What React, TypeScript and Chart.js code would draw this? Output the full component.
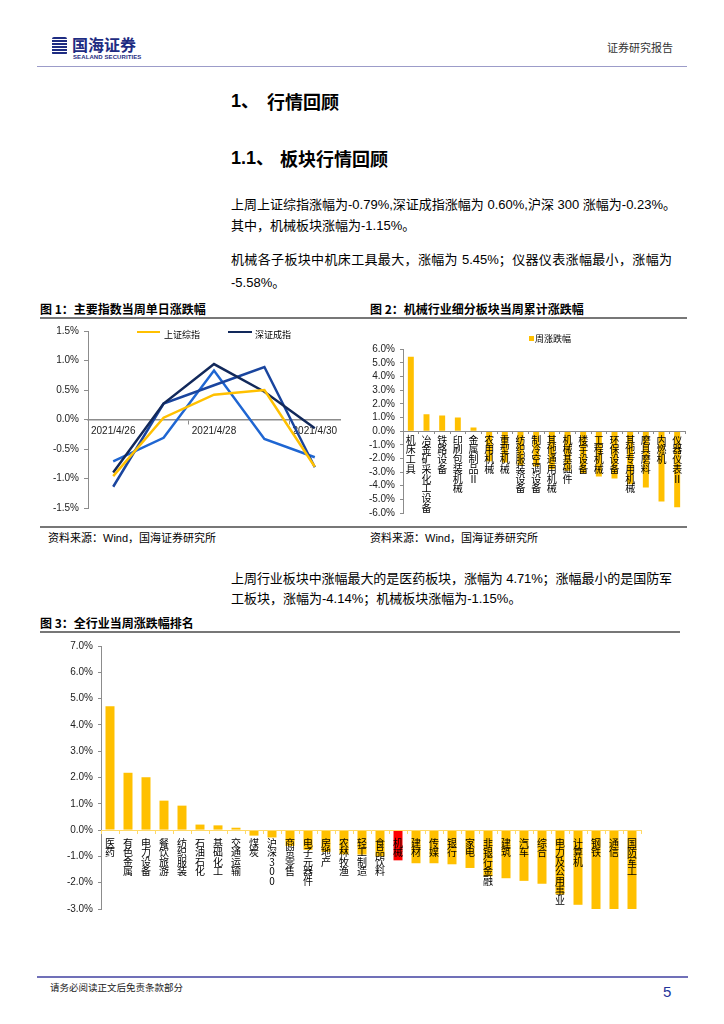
import React, { useEffect, useRef } from 'react';
import { Chart, registerables } from 'chart.js';

Chart.register(...registerables);

// ---------------- Data ----------------
// Figure 1: daily change of main indices (%)
const dayLabels = ['2021/4/26', '2021/4/27', '2021/4/28', '2021/4/29', '2021/4/30'];
const shComposite = [-0.96, 0.03, 0.42, 0.5, -0.8];
const szComponent = [-0.9, 0.27, 0.94, 0.47, -0.15];
const hs300Daily = [-1.14, 0.27, 0.58, 0.89, -0.81];
const machineryDaily = [-0.71, -0.31, 0.83, -0.33, -0.64];
const fig1Range = [-1.5, 1.5, 0.5];

// Figure 2: machinery sub-sectors weekly change (%)
const subSectors = [
  '机床工具', '冶金矿采化工设备', '铁路设备', '印刷包装机械', '金属制品Ⅱ', '农用机械',
  '重型机械', '纺织服装设备', '制冷空调设备', '其他通用机械', '机械基础件', '楼宇设备',
  '工程机械', '环保设备', '其他专用机械', '磨具磨料', '内燃机', '仪器仪表Ⅱ',
];
const subSectorWeekly = [
  5.45, 1.24, 1.14, 1.0, 0.27, -2.2,
  -2.3, -2.5, -2.6, -2.8, -2.9, -3.1,
  -3.33, -3.47, -3.9, -4.13, -5.15, -5.58,
];
const fig2Range = [-6, 6, 1];

// Figure 3: all industries weekly change (%)
const industries = [
  '医药', '有色金属', '电力设备', '餐饮旅游', '纺织服装', '石油石化', '基础化工', '交通运输',
  '煤炭', '沪深300', '商贸零售', '电子元器件', '房地产', '农林牧渔', '轻工制造', '食品饮料',
  '机械', '建材', '传媒', '银行', '家电', '非银行金融', '建筑', '汽车', '综合',
  '电力及公用事业', '计算机', '钢铁', '通信', '国防军工',
];
const industryWeekly = [
  4.71, 2.18, 2.01, 1.12, 0.93, 0.21, 0.18, 0.09,
  -0.21, -0.28, -0.6, -0.75, -0.83, -0.92, -0.93, -1.0,
  -1.15, -1.26, -1.26, -1.3, -1.44, -1.76, -1.83, -1.93, -2.04,
  -2.45, -2.84, -3.2, -3.4, -4.14,
];
const highlightIndustry = '机械';
const fig3Range = [-3, 7, 1];

// ---------------- Styling helpers ----------------
const LATIN = '"Liberation Sans", Arial, "Noto Sans CJK SC", sans-serif';
const CJK = '"Noto Sans CJK SC", "Liberation Sans", sans-serif';
const YELLOW = '#FFC000';
const AXIS = '#8c8c8c';

const pct = (v: any) => `${(Math.round(Number(v) * 10) / 10).toFixed(1)}%`;

function yScale(range: number[], width: number, tickLen: number, pad: number) {
  return {
    min: range[0],
    max: range[1],
    ticks: {
      stepSize: range[2],
      autoSkip: false,
      callback: pct,
      padding: pad,
      color: '#222',
      font: { family: LATIN, size: 10 },
    },
    grid: { display: true, drawOnChartArea: false, drawTicks: true, tickLength: tickLen, color: AXIS },
    border: { display: true, color: AXIS, width: 1 },
    afterFit: (s: any) => {
      s.width = width;
    },
  };
}

function ChartBox(props: { left: number; top: number; width: number; height: number; make: () => any }) {
  const ref = useRef<HTMLCanvasElement>(null);
  useEffect(() => {
    const chart = new Chart(ref.current as HTMLCanvasElement, props.make());
    return () => chart.destroy();
  }, []);
  const { left, top, width, height } = props;
  return (
    <div style={{ position: 'absolute', left, top, width, height }}>
      <canvas ref={ref} width={width} height={height} style={{ width, height, display: 'block' }} />
    </div>
  );
}

const fig1Config = () => ({
  type: 'line',
  data: {
    labels: dayLabels,
    datasets: [
      { label: '上证综指', data: shComposite, borderColor: YELLOW },
      { label: '深证成指', data: szComponent, borderColor: '#12295B' },
      { label: '沪深300', data: hs300Daily, borderColor: '#1A459E' },
      { label: '机械', data: machineryDaily, borderColor: '#1F66D2' },
    ],
  },
  options: {
    animation: false,
    responsive: false,
    events: [],
    layout: { padding: { left: 0, right: 10, top: 10, bottom: 12 } },
    plugins: { legend: { display: false }, tooltip: { enabled: false } },
    elements: { point: { radius: 0 }, line: { borderWidth: 2.5, tension: 0, fill: false } },
    scales: {
      x: {
        type: 'category',
        position: { y: 0 },
        offset: true,
        grid: {
          display: true,
          drawOnChartArea: false,
          offset: true,
          tickLength: 4,
          color: (c: any) => (c.index % 2 === 0 ? AXIS : 'rgba(0,0,0,0)'),
        },
        border: { display: true, color: AXIS, width: 1.5 },
        ticks: {
          autoSkip: false,
          maxRotation: 0,
          minRotation: 0,
          padding: 2,
          color: '#222',
          font: { family: LATIN, size: 10 },
          callback: (_v: any, i: number) => (i % 2 === 0 ? dayLabels[i] : ''),
        },
      },
      y: yScale(fig1Range, 48, 4, 5),
    },
  },
});

const fig2Config = () => ({
  type: 'bar',
  data: {
    labels: subSectors.map((s) => Array.from(s)),
    datasets: [
      {
        label: '周涨跌幅',
        data: subSectorWeekly,
        backgroundColor: YELLOW,
        barPercentage: 0.38,
        categoryPercentage: 1,
      },
    ],
  },
  options: {
    animation: false,
    responsive: false,
    events: [],
    layout: { padding: { left: 0, right: 5, top: 29.3, bottom: 9.7 } },
    plugins: { legend: { display: false }, tooltip: { enabled: false } },
    scales: {
      x: {
        type: 'category',
        position: { y: 0 },
        offset: true,
        grid: { display: true, drawOnChartArea: false, offset: true, tickLength: 2, color: AXIS, z: 1 },
        border: { display: true, color: AXIS, width: 1, z: 1 },
        ticks: {
          z: 1,
          autoSkip: false,
          maxRotation: 0,
          minRotation: 0,
          padding: 2,
          color: '#000',
          font: { family: CJK, size: 10, lineHeight: 0.97 },
        },
      },
      y: yScale(fig2Range, 43, 3, 5),
    },
  },
});

const fig3Config = () => ({
  type: 'bar',
  data: {
    labels: industries.map((s) => Array.from(s)),
    datasets: [
      {
        label: '周涨跌幅',
        data: industryWeekly,
        backgroundColor: industries.map((n) => (n === highlightIndustry ? '#FF0000' : YELLOW)),
        barPercentage: 0.5,
        categoryPercentage: 1,
      },
    ],
  },
  options: {
    animation: false,
    responsive: false,
    events: [],
    layout: { padding: { left: 0, right: 49, top: 10, bottom: 9.3 } },
    plugins: { legend: { display: false }, tooltip: { enabled: false } },
    scales: {
      x: {
        type: 'category',
        position: { y: 0 },
        offset: true,
        grid: { display: true, drawOnChartArea: false, offset: true, tickLength: 3, color: '#FFD966', z: 1 },
        border: { display: true, color: '#FFD966', width: 1, z: 1 },
        ticks: {
          z: 1,
          autoSkip: false,
          maxRotation: 0,
          minRotation: 0,
          padding: 5,
          color: '#000',
          font: { family: CJK, size: 10, lineHeight: 0.96 },
        },
      },
      y: yScale(fig3Range, 61, 3, 5),
    },
  },
});

// ---------------- Page helpers ----------------
function Txt(props: {
  x: number;
  y: number;
  size: number;
  children: any;
  bold?: boolean;
  color?: string;
  family?: string;
  width?: number;
  justify?: boolean;
  spacing?: number;
}) {
  const { x, y, size, bold, color, family, width, justify, spacing } = props;
  const style: any = {
    position: 'absolute',
    left: x,
    top: y - size / 2,
    fontSize: size,
    lineHeight: `${size}px`,
    fontWeight: bold ? 700 : 400,
    color: color || '#000',
    fontFamily: family || LATIN,
    whiteSpace: 'nowrap',
  };
  if (spacing !== undefined) {
    style.letterSpacing = spacing;
  }
  if (width) {
    style.width = width;
  }
  if (justify) {
    style.textAlign = 'justify';
    style.textAlignLast = 'justify';
  }
  return <div style={style}>{props.children}</div>;
}

function HLine(props: { x1: number; x2: number; y: number; color: string; h: number }) {
  return (
    <div
      style={{
        position: 'absolute',
        left: props.x1,
        top: props.y - props.h / 2,
        width: props.x2 - props.x1,
        height: props.h,
        background: props.color,
      }}
    />
  );
}

function Box(props: { x: number; y: number; w: number; h: number; color: string }) {
  return (
    <div
      style={{ position: 'absolute', left: props.x, top: props.y, width: props.w, height: props.h, background: props.color }}
    />
  );
}

export default function App() {
  return (
    <div
      style={{
        position: 'absolute',
        left: 0,
        top: 0,
        width: 724,
        height: 1024,
        overflow: 'hidden',
        background: '#fff',
        fontFamily: LATIN,
      }}
    >
      {/* Header */}
      <div
        style={{
          position: 'absolute',
          left: 52,
          top: 37,
          width: 15,
          height: 18,
          background:
            'repeating-linear-gradient(180deg, #1E2C82 0px, #1E2C82 2px, #ffffff 2px, #ffffff 3px)',
          borderRadius: 2,
        }}
      />
      <Txt x={72} y={44} size={16} bold color="#1E2C82" family={CJK}>
        国海证券
      </Txt>
      <div
        style={{
          position: 'absolute',
          left: 73,
          top: 54,
          fontSize: 6,
          lineHeight: '6px',
          fontWeight: 700,
          color: '#1E2C82',
          fontFamily: LATIN,
          whiteSpace: 'nowrap',
          letterSpacing: 0.1,
        }}
      >
        SEALAND SECURITIES
      </div>
      <Txt x={607} y={47} size={11} color="#333" family={CJK}>
        证券研究报告
      </Txt>
      <HLine x1={37} x2={687} y={66.5} color="#9C9CC9" h={1.5} />

      {/* Headings */}
      <Txt x={231} y={101} size={18} bold>
        1、
      </Txt>
      <Txt x={267} y={101} size={18} bold family={CJK}>
        行情回顾
      </Txt>
      <Txt x={231} y={158} size={18} bold>
        1.1、
      </Txt>
      <Txt x={280} y={158} size={18} bold family={CJK}>
        板块行情回顾
      </Txt>

      {/* Paragraph 1 */}
      <Txt x={231} y={204} size={13}>
        上周上证综指涨幅为-0.79%,深证成指涨幅为 0.60%,沪深 300 涨幅为-0.23%。
      </Txt>
      <Txt x={231} y={225} size={13}>
        其中，机械板块涨幅为-1.15%。
      </Txt>
      <Txt x={231} y={259} size={13} width={441} justify>
        机械各子板块中机床工具最大，涨幅为 5.45%；仪器仪表涨幅最小，涨幅为
      </Txt>
      <Txt x={231} y={282} size={13}>
        -5.58%。
      </Txt>

      {/* Figure 1 & 2 titles */}
      <Txt x={40} y={309} size={12} bold family={CJK}>
        图 1：主要指数当周单日涨跌幅
      </Txt>
      <Txt x={370} y={309} size={12} bold family={CJK}>
        图 2：机械行业细分板块当周累计涨跌幅
      </Txt>
      <HLine x1={40} x2={687} y={318} color="#777" h={2} />

      {/* Figure 1 */}
      <ChartBox left={40} top={320} width={310} height={200} make={fig1Config} />
      <Box x={137} y={330.5} w={23} h={2.5} color={YELLOW} />
      <Txt x={164} y={334} size={9} family={CJK}>
        上证综指
      </Txt>
      <Box x={228} y={330.5} w={24} h={2.5} color="#12295B" />
      <Txt x={255} y={334} size={9} family={CJK}>
        深证成指
      </Txt>

      {/* Figure 2 */}
      <ChartBox left={360} top={320} width={330} height={204} make={fig2Config} />
      <Box x={529} y={335.5} w={5} h={5} color={YELLOW} />
      <Txt x={535} y={338} size={9} family={CJK}>
        周涨跌幅
      </Txt>

      <HLine x1={40} x2={687} y={527} color="#777" h={1.5} />
      <Txt x={48} y={538} size={11}>
        资料来源：Wind，国海证券研究所
      </Txt>
      <Txt x={370} y={538} size={11}>
        资料来源：Wind，国海证券研究所
      </Txt>

      {/* Paragraph 2 */}
      <Txt x={231} y={578} size={13} width={441} justify spacing={-0.12}>
        上周行业板块中涨幅最大的是医药板块，涨幅为 4.71%；涨幅最小的是国防军
      </Txt>
      <Txt x={231} y={598} size={13}>
        工板块，涨幅为-4.14%；机械板块涨幅为-1.15%。
      </Txt>

      {/* Figure 3 */}
      <Txt x={40} y={623} size={12} bold family={CJK}>
        图 3：全行业当周涨跌幅排名
      </Txt>
      <HLine x1={40} x2={680} y={632} color="#777" h={2} />
      <ChartBox left={40} top={635} width={650} height={285} make={fig3Config} />

      {/* Footer */}
      <HLine x1={37} x2={688} y={977} color="#7070B8" h={1.5} />
      <Txt x={50} y={988} size={9.5} family={CJK} color="#222">
        请务必阅读正文后免责条款部分
      </Txt>
      <Txt x={663} y={991} size={15} color="#23349A">
        5
      </Txt>
    </div>
  );
}
